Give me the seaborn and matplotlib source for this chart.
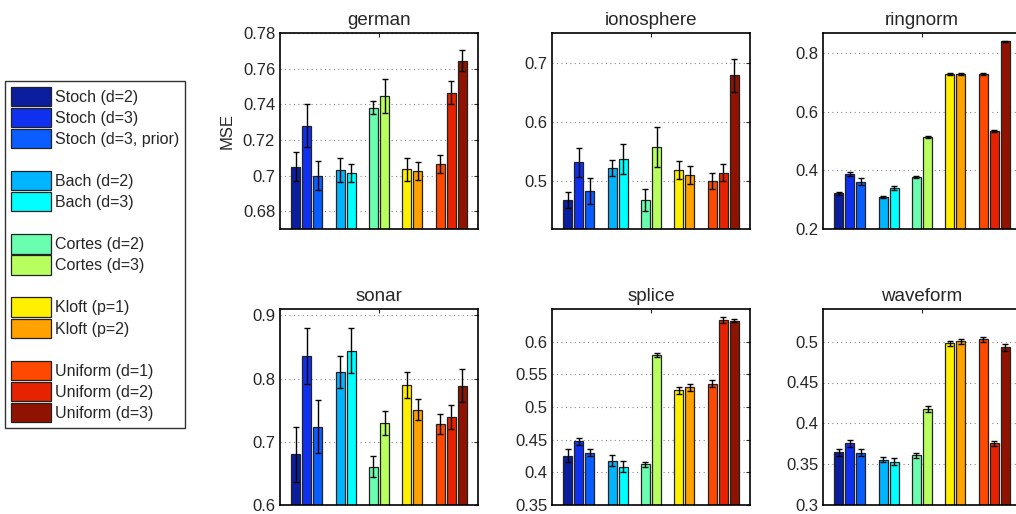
import numpy as np
import pandas as pd
import matplotlib
matplotlib.use("Agg")
import matplotlib.pyplot as plt
import seaborn as sns
from matplotlib.patches import Patch
from matplotlib.lines import Line2D
from matplotlib.ticker import FuncFormatter

# methods and colours (jet-like)
methods = ["Stoch (d=2)", "Stoch (d=3)", "Stoch (d=3, prior)",
           "Bach (d=2)", "Bach (d=3)",
           "Cortes (d=2)", "Cortes (d=3)",
           "Kloft (p=1)", "Kloft (p=2)",
           "Uniform (d=1)", "Uniform (d=2)", "Uniform (d=3)"]
colors = ["#0a1e9e", "#1030f0", "#0a5eff",
          "#00b4ff", "#00ffff",
          "#6affb0", "#b8ff60",
          "#fff000", "#ffa200",
          "#ff4800", "#e62200", "#901200"]
positions = [0, 1, 2, 4, 5, 7, 8, 10, 11, 13, 14, 15]

# values
german_mse = [0.705, 0.728, 0.700, 0.703, 0.7015, 0.738, 0.7447, 0.7036, 0.7024, 0.7064, 0.7466, 0.7645]
german_err = [0.008, 0.012, 0.008, 0.0068, 0.005, 0.0036, 0.0096, 0.0064, 0.005, 0.005, 0.0065, 0.0057]
iono_mse = [0.469, 0.532, 0.4837, 0.523, 0.538, 0.469, 0.558, 0.520, 0.511, 0.501, 0.515, 0.679]
iono_err = [0.013, 0.024, 0.022, 0.013, 0.025, 0.018, 0.033, 0.015, 0.015, 0.014, 0.015, 0.028]
ring_mse = [0.322, 0.388, 0.362, 0.3095, 0.340, 0.377, 0.515, 0.729, 0.729, 0.729, 0.534, 0.841]
ring_err = [0.005, 0.008, 0.012, 0.003, 0.008, 0.003, 0.004, 0.004, 0.004, 0.004, 0.004, 0.002]
sonar_mse = [0.680, 0.8356, 0.724, 0.810, 0.844, 0.6607, 0.729, 0.790, 0.751, 0.7284, 0.7395, 0.7886]
sonar_err = [0.043, 0.045, 0.042, 0.025, 0.036, 0.017, 0.019, 0.0206, 0.016, 0.016, 0.019, 0.026]
splice_mse = [0.4257, 0.4473, 0.4303, 0.418, 0.4088, 0.4124, 0.580, 0.5254, 0.530, 0.5356, 0.6332, 0.632]
splice_err = [0.0095, 0.006, 0.006, 0.009, 0.008, 0.004, 0.003, 0.005, 0.005, 0.005, 0.004, 0.002]
wave_mse = [0.3646, 0.3756, 0.3642, 0.3552, 0.3531, 0.3609, 0.4178, 0.498, 0.5004, 0.5028, 0.3756, 0.493]
wave_err = [0.004, 0.004, 0.004, 0.003, 0.004, 0.003, 0.004, 0.003, 0.003, 0.003, 0.003, 0.004]

panels = [
    ("german", german_mse, german_err, (0.67, 0.78), np.arange(0.68, 0.781, 0.02)),
    ("ionosphere", iono_mse, iono_err, (0.42, 0.75), [0.5, 0.6, 0.7]),
    ("ringnorm", ring_mse, ring_err, (0.2, 0.87), [0.2, 0.4, 0.6, 0.8]),
    ("sonar", sonar_mse, sonar_err, (0.6, 0.91), [0.6, 0.7, 0.8, 0.9]),
    ("splice", splice_mse, splice_err, (0.35, 0.65), [0.35, 0.4, 0.45, 0.5, 0.55, 0.6]),
    ("waveform", wave_mse, wave_err, (0.3, 0.54), [0.3, 0.35, 0.4, 0.45, 0.5]),
]

sns.set_style("white")
plt.rcParams["font.family"] = ["Liberation Sans", "DejaVu Sans"]

fig = plt.figure(figsize=(10.16, 5.14), dpi=100)
lefts = [280 / 1016, 552 / 1016, 823 / 1016]
bottoms = [1 - 229 / 514, 1 - 505 / 514]
w, h = 198 / 1016, 196 / 514

palette = dict(zip(methods, colors))
for i, (name, mse, err, ylim, yticks) in enumerate(panels):
    ax = fig.add_axes([lefts[i % 3], bottoms[i // 3], w, h])
    df = pd.DataFrame({"pos": positions, "mse": mse, "method": methods})
    sns.barplot(data=df, x="pos", y="mse", hue="method", palette=palette,
                native_scale=True, dodge=False, width=0.8, errorbar=None,
                saturation=1, edgecolor="#222222", linewidth=0.9,
                legend=False, ax=ax)
    ax.errorbar(positions, mse, yerr=err, fmt="none", ecolor="black",
                elinewidth=1, capsize=2.2, capthick=1)
    ax.set_xlim(-1.4, 16.4)
    ax.set_ylim(*ylim)
    ax.set_yticks(yticks)
    ax.yaxis.set_major_formatter(FuncFormatter(lambda v, p: f"{v:g}"))
    ax.set_xticks([7.5])
    ax.set_xticklabels([""])
    ax.tick_params(direction="in", top=True, right=True, length=3,
                   labelsize=12, width=0.8)
    ax.yaxis.grid(True, linestyle=(0, (1, 3)), color="#888888", linewidth=0.8)
    ax.set_axisbelow(True)
    for s in ax.spines.values():
        s.set_color("black")
        s.set_linewidth(1.2)
    ax.set_xlabel("")
    ax.set_ylabel("MSE" if name == "german" else "", fontsize=12, labelpad=6)
    ax.set_title(name, fontsize=13.5, pad=6)

# legend with gaps between method families
handles, labels = [], []
for k, (m, c) in enumerate(zip(methods, colors)):
    if k in (3, 5, 7, 9):
        handles.append(Line2D([], [], linestyle="none"))
        labels.append(" ")
    handles.append(Patch(facecolor=c, edgecolor="#222222", linewidth=0.9))
    labels.append(m)
leg = fig.legend(handles, labels, loc="upper left",
                 bbox_to_anchor=(5 / 1016, 1 - 81 / 514), fontsize=11.5,
                 frameon=True, fancybox=False, edgecolor="black",
                 handlelength=2.55, handleheight=1.5, handletextpad=0.25,
                 labelspacing=0.1, borderpad=0.35, borderaxespad=0)
leg.get_frame().set_linewidth(1.0)

fig.savefig("out.png", dpi=100)
